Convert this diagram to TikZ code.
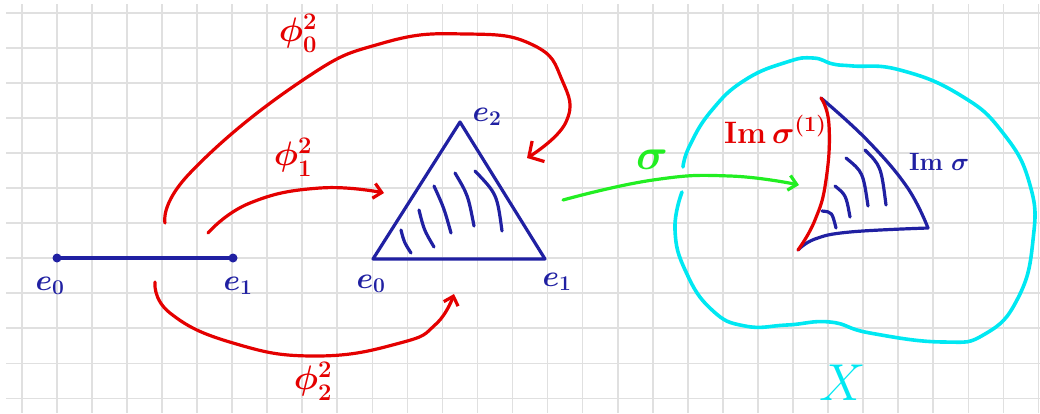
\documentclass[tikz,border=0pt]{standalone}
\usepackage{fix-cm}
\usepackage{xcolor}
\usepackage{amsmath,amssymb}
\usepackage{tikz}
\usetikzlibrary{arrows.meta, calc, positioning}

\definecolor{inkred}{RGB}{228,0,0}
\definecolor{inkblue}{RGB}{32,32,162}
\definecolor{inkcyan}{RGB}{0,232,242}
\definecolor{inkgreen}{RGB}{34,238,34}

\begin{document}
\begin{tikzpicture}[x=1pt,y=-1pt,>={Straight Barb[length=8pt,width=15pt]},
    ink/.style={line width=3.2pt,line cap=round,line join=round},
    gridline/.style={gray!24,line width=1.6pt},
    hand/.style={inner sep=0pt,font=\fontsize{#1}{#1}\selectfont\boldmath}]
  \useasboundingbox (0,0) rectangle (1040,413);
  % ---- squared paper ----
  \foreach \i in {0,...,29}
    \draw[gridline] ({21.7+35.06*\i},4) -- ({21.7+35.06*\i},413);
  \foreach \j in {0,...,11}
    \draw[gridline] (6,{12.7+35.06*\j}) -- (1040,{12.7+35.06*\j});

  % ---- 1-simplex ----
  \coordinate (s0) at (57,258);
  \coordinate (s1) at (233,258);
  \draw[ink,inkblue] (s0) -- (s1);
  \fill[inkblue] (s0) circle (4.5pt) (s1) circle (4.5pt);
  \node[hand=30,text=inkblue] (segE0) at (50,286) {$e_0$};
  \node[hand=30,text=inkblue] (segE1) at (238,286) {$e_1$};

  % ---- 2-simplex ----
  \coordinate (t0) at (373,259);
  \coordinate (t1) at (545,259);
  \coordinate (t2) at (460,122);
  \draw[ink,inkblue] (t0) -- (t1) -- (t2) -- cycle;
  \foreach \xa/\ya/\xc/\yc/\xb/\yb in {401/230/404/242/411/253,
      419/210/424/230/434/247, 434/186/444/208/451/233,
      455/173/468/195/474/226, 475/171/497/194/502/231}
    \draw[ink,inkblue] (\xa,\ya) .. controls (\xc,\yc) .. (\xb,\yb);
  \node[hand=30,text=inkblue] (triE0) at (371,284) {$e_0$};
  \node[hand=30,text=inkblue] (triE1) at (557,282) {$e_1$};
  \node[hand=30,text=inkblue] (triE2) at (487,117) {$e_2$};

  % ---- face maps ----
  \coordinate (p0s) at (165,223);
  \coordinate (p0e) at (527,158);
  \draw[ink,inkred,-{Straight Barb[length=11pt,width=24pt]}] plot[smooth,tension=0.8]
    coordinates {(p0s) (190,173) (300,82) (383,43) (467,34) (533,45)
                 (562,80) (566,122) (p0e)};
  \node[hand=34,text=inkred] (phiZero) at (298,33) {$\phi^2_0$};

  \coordinate (p1s) at (208,233);
  \coordinate (p1e) at (384,193);
  \draw[ink,inkred,->] plot[smooth,tension=0.8]
    coordinates {(p1s) (250,203) (320,188) (p1e)};
  \node[hand=34,text=inkred] (phiOne) at (293,157) {$\phi^2_1$};

  \coordinate (p2s) at (155,282);
  \coordinate (p2e) at (454,294);
  \draw[ink,inkred,->] plot[smooth,tension=0.8]
    coordinates {(p2s) (170,313) (233,343) (316,356) (400,343) (436,324) (p2e)};
  \node[hand=34,text=inkred] (phiTwo) at (313,381) {$\phi^2_2$};

  % ---- the space X ----
  \draw[ink,inkcyan,line width=3.6pt] plot[smooth,tension=0.8]
    coordinates {(682,192) (675,230) (686,272) (712,310) (745,326) (787,325)
                 (830,322) (870,333) (943,342) (985,334) (1018,298)
                 (1033,240) (1030,185) (1003,133) (960,95) (900,70) (853,66)
                 (833,64) (813,58) (787,62) (745,80) (712,110) (690,145) (683,167)};
  \node[hand=52,text=inkcyan,font=\fontsize{52}{52}\selectfont\unboldmath] (spaceX)
    at (843,383) {$X$};

  % ---- singular simplex sigma ----
  \coordinate (gs) at (563,200);
  \coordinate (ge) at (799,185);
  \draw[ink,inkgreen,->] plot[smooth,tension=0.8]
    coordinates {(gs) (653,180) (730,176) (ge)};
  \node[hand=44,text=inkgreen] (sigLbl) at (652,160) {$\sigma$};

  \coordinate (m0) at (821,98);
  \coordinate (m1) at (798,250);
  \coordinate (m2) at (928,228);
  \draw[ink,inkblue] plot[smooth,tension=0.7]
    coordinates {(m0) (867,140) (907,187) (m2)};
  \draw[ink,inkblue] plot[smooth,tension=0.7]
    coordinates {(m2) (850,232) (815,239) (m1)};
  \draw[ink,inkred] plot[smooth,tension=0.8]
    coordinates {(m0) (829,125) (826,180) (815,220) (m1)};
  \foreach \xa/\ya/\xc/\yc/\xb/\yb in {822/211/832/212/836/228,
      835/186/846/195/850/217, 846/158/863/172/868/206, 865/150/881/166/886/205}
    \draw[ink,inkblue] (\xa,\ya) .. controls (\xc,\yc) .. (\xb,\yb);
  \node[hand=31,text=inkred,anchor=base west] (imSigOne) at (724,143)
    {$\mathrm{Im}\,\sigma^{(1)}$};
  \node[hand=25,text=inkblue,anchor=base west] (imSig) at (909,170)
    {$\mathrm{Im}\;\sigma$};
\end{tikzpicture}
\end{document}
